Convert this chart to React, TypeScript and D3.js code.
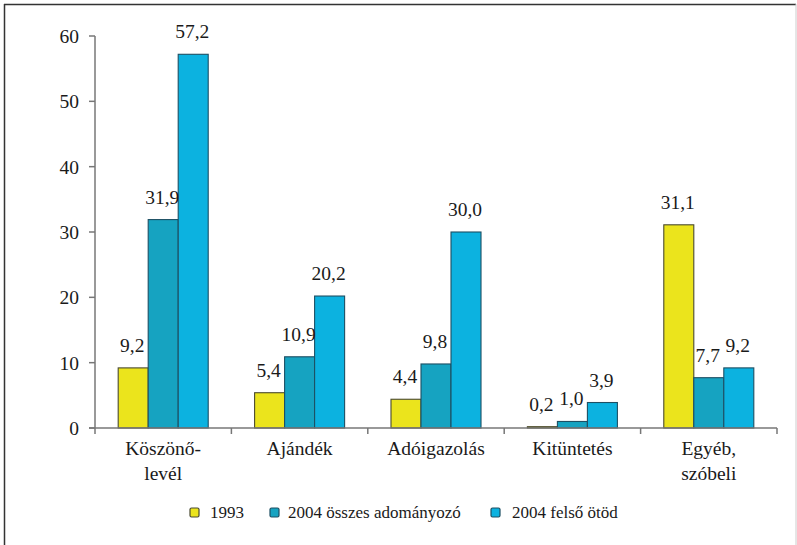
import React from "react";
import * as d3 from "d3";

const categories = ["Köszönő-\nlevél", "Ajándék", "Adóigazolás", "Kitüntetés", "Egyéb,\nszóbeli"];
const seriesNames = ["1993", "2004 összes adományozó", "2004 felső ötöd"];
const values1993 = [9.2, 5.4, 4.4, 0.2, 31.1];
const valuesAll2004 = [31.9, 10.9, 9.8, 1.0, 7.7];
const valuesTop2004 = [57.2, 20.2, 30.0, 3.9, 9.2];
const yTicks = [0, 10, 20, 30, 40, 50, 60];
const colors = ["#ebe41c", "#16a3c1", "#0cb2e0"];
const strokes = ["#4a4a30", "#1d4f63", "#1d4f63"];

const W = 797;
const H = 545;
const FONT = '"Liberation Serif"';

export default function App() {
  const series = [values1993, valuesAll2004, valuesTop2004];
  const x = d3.scaleBand<number>().domain(d3.range(categories.length)).range([95, 777]).paddingInner(0).paddingOuter(0);
  const inner = d3.scaleBand<number>().domain(d3.range(series.length)).range([0, x.bandwidth()]).paddingInner(0).paddingOuter(0.773);
  const y = d3.scaleLinear().domain([0, 60]).range([428, 36]);
  const fmt = (v: number) => v.toFixed(1).replace(".", ",");

  const legendItems = [
    { sx: 190, tx: 210 },
    { sx: 270, tx: 288 },
    { sx: 491, tx: 512 },
  ];

  return (
    <svg width={W} height={H} style={{ position: "absolute", left: 0, top: 0, background: "#fff" }}>
      {/* frame */}
      <line x1={4.5} y1={4} x2={4.5} y2={H} stroke="#333" strokeWidth={1.5} />
      <line x1={4} y1={4.5} x2={796} y2={4.5} stroke="#333" strokeWidth={1.5} />
      <line x1={796} y1={4} x2={796} y2={H} stroke="#ccc" strokeWidth={1} />

      {/* bars */}
      {series.map((vals, si) =>
        vals.map((v, ci) => {
          const bx = (x(ci) as number) + (inner(si) as number);
          return (
            <rect
              key={`b${si}-${ci}`}
              x={bx}
              y={y(v)}
              width={inner.bandwidth()}
              height={y(0) - y(v)}
              fill={colors[si]}
              stroke={strokes[si]}
              strokeWidth={1.1}
            />
          );
        })
      )}

      {/* value labels */}
      {series.map((vals, si) =>
        vals.map((v, ci) => {
          const cx = (x(ci) as number) + (inner(si) as number) + inner.bandwidth() / 2;
          return (
            <text key={`l${si}-${ci}`} x={cx - 1} y={y(v) - 16} textAnchor="middle" fontSize={19.5} fill="#1a1a1a" style={{ fontFamily: FONT }}>
              {fmt(v)}
            </text>
          );
        })
      )}

      {/* y axis */}
      <line x1={95} y1={y(60)} x2={95} y2={y(0)} stroke="#777" strokeWidth={1.5} />
      {yTicks.map((t) => (
        <g key={`yt${t}`}>
          <line x1={89} x2={95} y1={y(t)} y2={y(t)} stroke="#777" strokeWidth={1.5} />
          <text x={79} y={y(t) + 7} textAnchor="end" fontSize={19.5} fill="#1a1a1a" style={{ fontFamily: FONT }}>
            {t}
          </text>
        </g>
      ))}

      {/* x axis */}
      <line x1={89} x2={777} y1={y(0)} y2={y(0)} stroke="#777" strokeWidth={1.5} />
      {d3.range(categories.length + 1).map((i) => {
        const tx = i < categories.length ? (x(i) as number) : 777;
        return <line key={`xt${i}`} x1={tx} x2={tx} y1={y(0)} y2={y(0) + 6} stroke="#777" strokeWidth={1.5} />;
      })}
      {categories.map((c, ci) => {
        const cx = (x(ci) as number) + x.bandwidth() / 2;
        return (
          <text key={`c${ci}`} x={cx} y={455} textAnchor="middle" fontSize={19.5} fill="#1a1a1a" style={{ fontFamily: FONT }}>
            {c.split("\n").map((line, li) => (
              <tspan key={li} x={cx} dy={li === 0 ? 0 : 25}>
                {line}
              </tspan>
            ))}
          </text>
        );
      })}

      {/* legend */}
      {seriesNames.map((name, si) => (
        <g key={`lg${si}`}>
          <rect x={legendItems[si].sx} y={508} width={9} height={9} rx={1.5} fill={colors[si]} stroke={strokes[si]} strokeWidth={1.2} />
          <text x={legendItems[si].tx} y={518} fontSize={17} fill="#1a1a1a" style={{ fontFamily: FONT }}>
            {name}
          </text>
        </g>
      ))}
    </svg>
  );
}
